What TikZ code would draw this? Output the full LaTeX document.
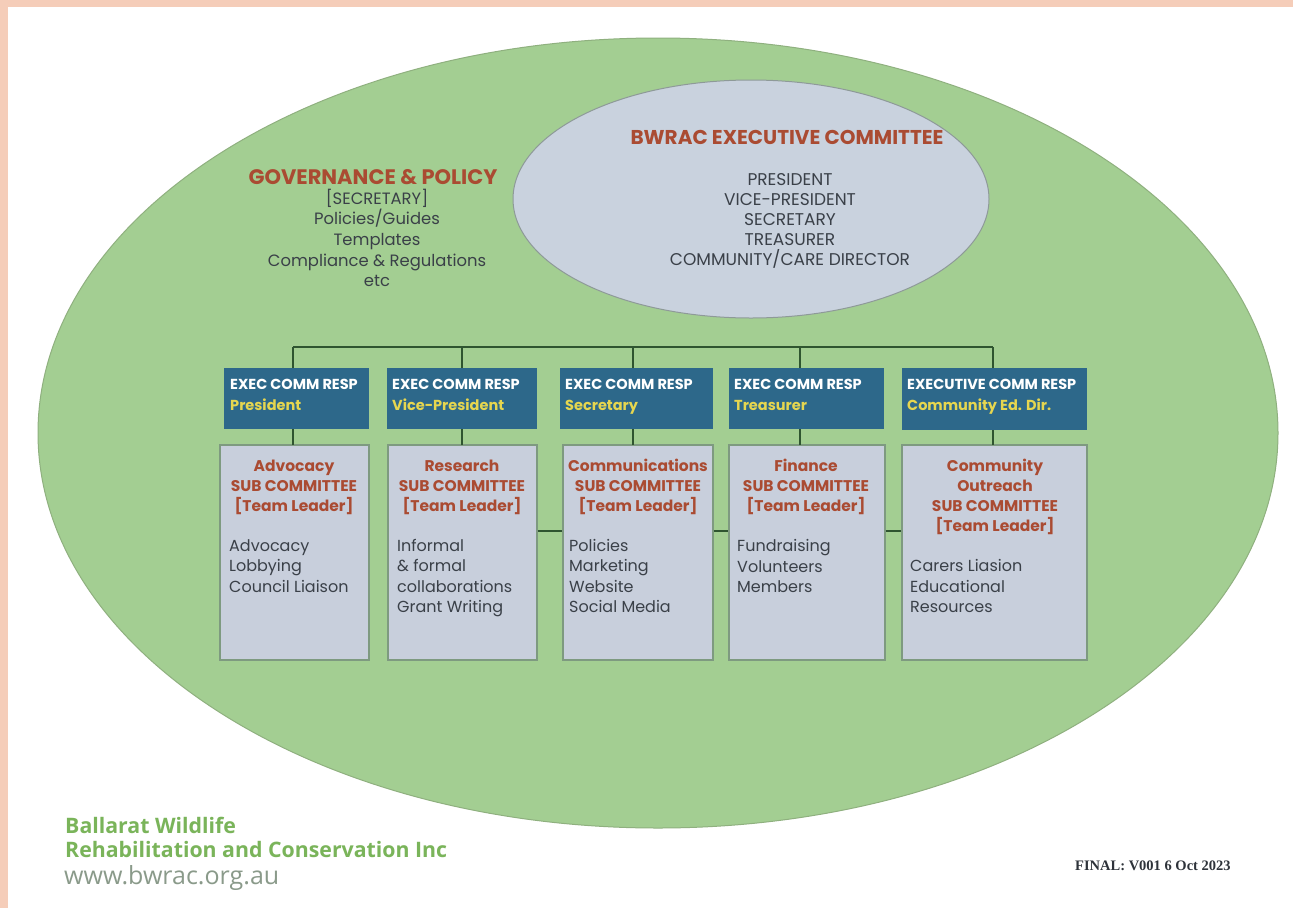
\documentclass[tikz,border=0pt]{standalone}
\usetikzlibrary{shapes.geometric,fit}
\usepackage{fontspec}
\setmainfont{Poppins}
\newfontfamily\footfont{Open Sans}
\newfontfamily\serfont{Liberation Serif}
\definecolor{peach}{HTML}{F5CDB9}
\definecolor{biggreen}{HTML}{A3CE92}
\definecolor{bigborder}{HTML}{8FB07F}
\definecolor{lightfill}{HTML}{C9D2DE}
\definecolor{lightborder}{HTML}{8E9A98}
\definecolor{execblue}{HTML}{2D688A}
\definecolor{yellowtxt}{HTML}{E6D64F}
\definecolor{brownred}{HTML}{AA4B32}
\definecolor{darktxt}{HTML}{3A4048}
\definecolor{subfill}{HTML}{C8CFDC}
\definecolor{subborder}{HTML}{7E9A80}
\definecolor{linecol}{HTML}{2F5530}
\definecolor{footgreen}{HTML}{7AB45A}
\definecolor{urlcol}{HTML}{8A9A8A}
\tikzset{
  execbox/.style={fill=execblue, draw=none, inner sep=0pt},
  subbox/.style={fill=subfill, draw=subborder, line width=1.2pt, inner sep=0pt},
  link/.style={draw=linecol, line width=1.8pt},
  exectxt/.style={anchor=west, inner sep=0pt, align=left, font=\fontsize{14.5}{21}\selectfont\bfseries, text=white},
  subtitle/.style={anchor=center, inner sep=0pt, align=center, font=\fontsize{15.5}{20}\selectfont\bfseries, text=brownred},
  itemtxt/.style={anchor=west, inner sep=0pt, align=left, font=\fontsize{16}{20.3}\selectfont, text=darktxt},
}
\begin{document}
\begin{tikzpicture}[x=1pt,y=-1pt]
\useasboundingbox (0,0) rectangle (1293,908);
\fill[white] (0,0) rectangle (1293,908);
\fill[peach] (0,0) rectangle (1293,7);
\fill[peach] (0,0) rectangle (8,908);
% big ellipse
\node[ellipse, draw=bigborder, line width=1pt, fill=biggreen, minimum width=1240pt, minimum height=790pt, inner sep=0pt] (big) at (658,433) {};
% exec ellipse
\node[ellipse, draw=lightborder, line width=1pt, fill=lightfill, minimum width=476pt, minimum height=238pt, inner sep=0pt] (exec) at (751,199) {};
\node[inner sep=0pt, font=\fontsize{20}{20}\selectfont\bfseries, text=brownred] (exectitle) at (787,137) {BWRAC EXECUTIVE COMMITTEE};
\node[inner sep=0pt, align=center, font=\fontsize{17}{20}\selectfont, text=darktxt] (execlist) at (790,221) {PRESIDENT\\VICE-PRESIDENT\\SECRETARY\\TREASURER\\COMMUNITY/CARE DIRECTOR};
% governance
\node[inner sep=0pt, font=\fontsize{21}{20}\selectfont\bfseries, text=brownred] (govtitle) at (373,177) {GOVERNANCE \& POLICY};
\node[inner sep=0pt, align=center, font=\fontsize{16.4}{20.7}\selectfont, text=darktxt] (govlist) at (377,238) {[SECRETARY]\\Policies/Guides\\Templates\\Compliance \& Regulations\\etc};
% exec boxes
\path (224,368) coordinate (e1a) (369,429) coordinate (e1b);
\path (387,368) coordinate (e2a) (537,429) coordinate (e2b);
\path (560,368) coordinate (e3a) (713,429) coordinate (e3b);
\path (729,368) coordinate (e4a) (884,429) coordinate (e4b);
\path (902,368) coordinate (e5a) (1087,430) coordinate (e5b);
\node[execbox, fit=(e1a)(e1b)] (x1) {};
\node[execbox, fit=(e2a)(e2b)] (x2) {};
\node[execbox, fit=(e3a)(e3b)] (x3) {};
\node[execbox, fit=(e4a)(e4b)] (x4) {};
\node[execbox, fit=(e5a)(e5b)] (x5) {};
\node[exectxt] (t1) at (230,398) {EXEC COMM RESP\\\textcolor{yellowtxt}{President}\strut};
\node[exectxt] (t2) at (392,398) {EXEC COMM RESP\\\textcolor{yellowtxt}{Vice-President}\strut};
\node[exectxt] (t3) at (565,398) {EXEC COMM RESP\\\textcolor{yellowtxt}{Secretary}\strut};
\node[exectxt] (t4) at (734,398) {EXEC COMM RESP\\\textcolor{yellowtxt}{Treasurer}\strut};
\node[exectxt] (t5) at (907,398) {EXECUTIVE COMM RESP\\\textcolor{yellowtxt}{Community Ed. Dir.}\strut};
% sub boxes
\path (220,445) coordinate (s1a) (369,660) coordinate (s1b);
\path (388,445) coordinate (s2a) (537,660) coordinate (s2b);
\path (563,445) coordinate (s3a) (713,660) coordinate (s3b);
\path (729,445) coordinate (s4a) (885,660) coordinate (s4b);
\path (902,445) coordinate (s5a) (1087,660) coordinate (s5b);
\node[subbox, fit=(s1a)(s1b)] (b1) {};
\node[subbox, fit=(s2a)(s2b)] (b2) {};
\node[subbox, fit=(s3a)(s3b)] (b3) {};
\node[subbox, fit=(s4a)(s4b)] (b4) {};
\node[subbox, fit=(s5a)(s5b)] (b5) {};
% connectors
\coordinate (bus1) at (293,347);
\coordinate (bus5) at (993,347);
\draw[link] (bus1) -- (bus5);
\draw[link] (bus1) -- (bus1 |- x1.north);
\draw[link] (462,347) -- (462,368);
\draw[link] (633,347) -- (633,368);
\draw[link] (800,347) -- (800,368);
\draw[link] (bus5) -- (bus5 |- x5.north);
\draw[link] (293,429) -- (293,445);
\draw[link] (462,429) -- (462,445);
\draw[link] (633,429) -- (633,445);
\draw[link] (800,429) -- (800,445);
\draw[link] (993,430) -- (993,445);
\draw[link] (b2.east |- 0,531) -- (b3.west |- 0,531);
\draw[link] (b3.east |- 0,531) -- (b4.west |- 0,531);
\draw[link] (b4.east |- 0,531) -- (b5.west |- 0,531);
% sub titles
\node[subtitle] (st1) at (294,487) {Advocacy\\SUB COMMITTEE\\{}[Team Leader]};
\node[subtitle] (st2) at (462,487) {Research\\SUB COMMITTEE\\{}[Team Leader]};
\node[subtitle] (st3) at (638,487) {Communications\\SUB COMMITTEE\\{}[Team Leader]};
\node[subtitle] (st4) at (806,487) {Finance\\SUB COMMITTEE\\{}[Team Leader]};
\node[subtitle] (st5) at (995,496.5) {Community\\Outreach\\SUB COMMITTEE\\{}[Team Leader]};
% items
\node[itemtxt] (i1) at (229,569) {Advocacy\\Lobbying\\Council Liaison\strut};
\node[itemtxt] (i2) at (397,579) {Informal\\\& formal\\collaborations\\Grant Writing\strut};
\node[itemtxt] (i3) at (569,579) {Policies\\Marketing\\Website\\Social Media\strut};
\node[itemtxt] (i4) at (737,569) {Fundraising\\Volunteers\\Members\strut};
\node[itemtxt] (i5) at (910,589) {Carers Liasion\\Educational\\Resources\strut};
% footer
\node[anchor=west, inner sep=0pt, font=\footfont\fontsize{21.3}{24}\selectfont\bfseries, text=footgreen] (f1) at (65,825) {Ballarat Wildlife};
\node[anchor=west, inner sep=0pt, font=\footfont\fontsize{21.3}{24}\selectfont\bfseries, text=footgreen] (f2) at (65,849) {Rehabilitation and Conservation Inc};
\node[anchor=west, inner sep=0pt, font=\footfont\fontsize{25}{24}\selectfont, text=urlcol] (f3) at (64,878) {www.bwrac.org.au};
\node[anchor=west, inner sep=0pt, font=\serfont\fontsize{14.5}{16}\selectfont\bfseries, text=darktxt!80!black] (fin) at (1075,866) {FINAL: V001 6 Oct 2023};
\end{tikzpicture}
\end{document}
